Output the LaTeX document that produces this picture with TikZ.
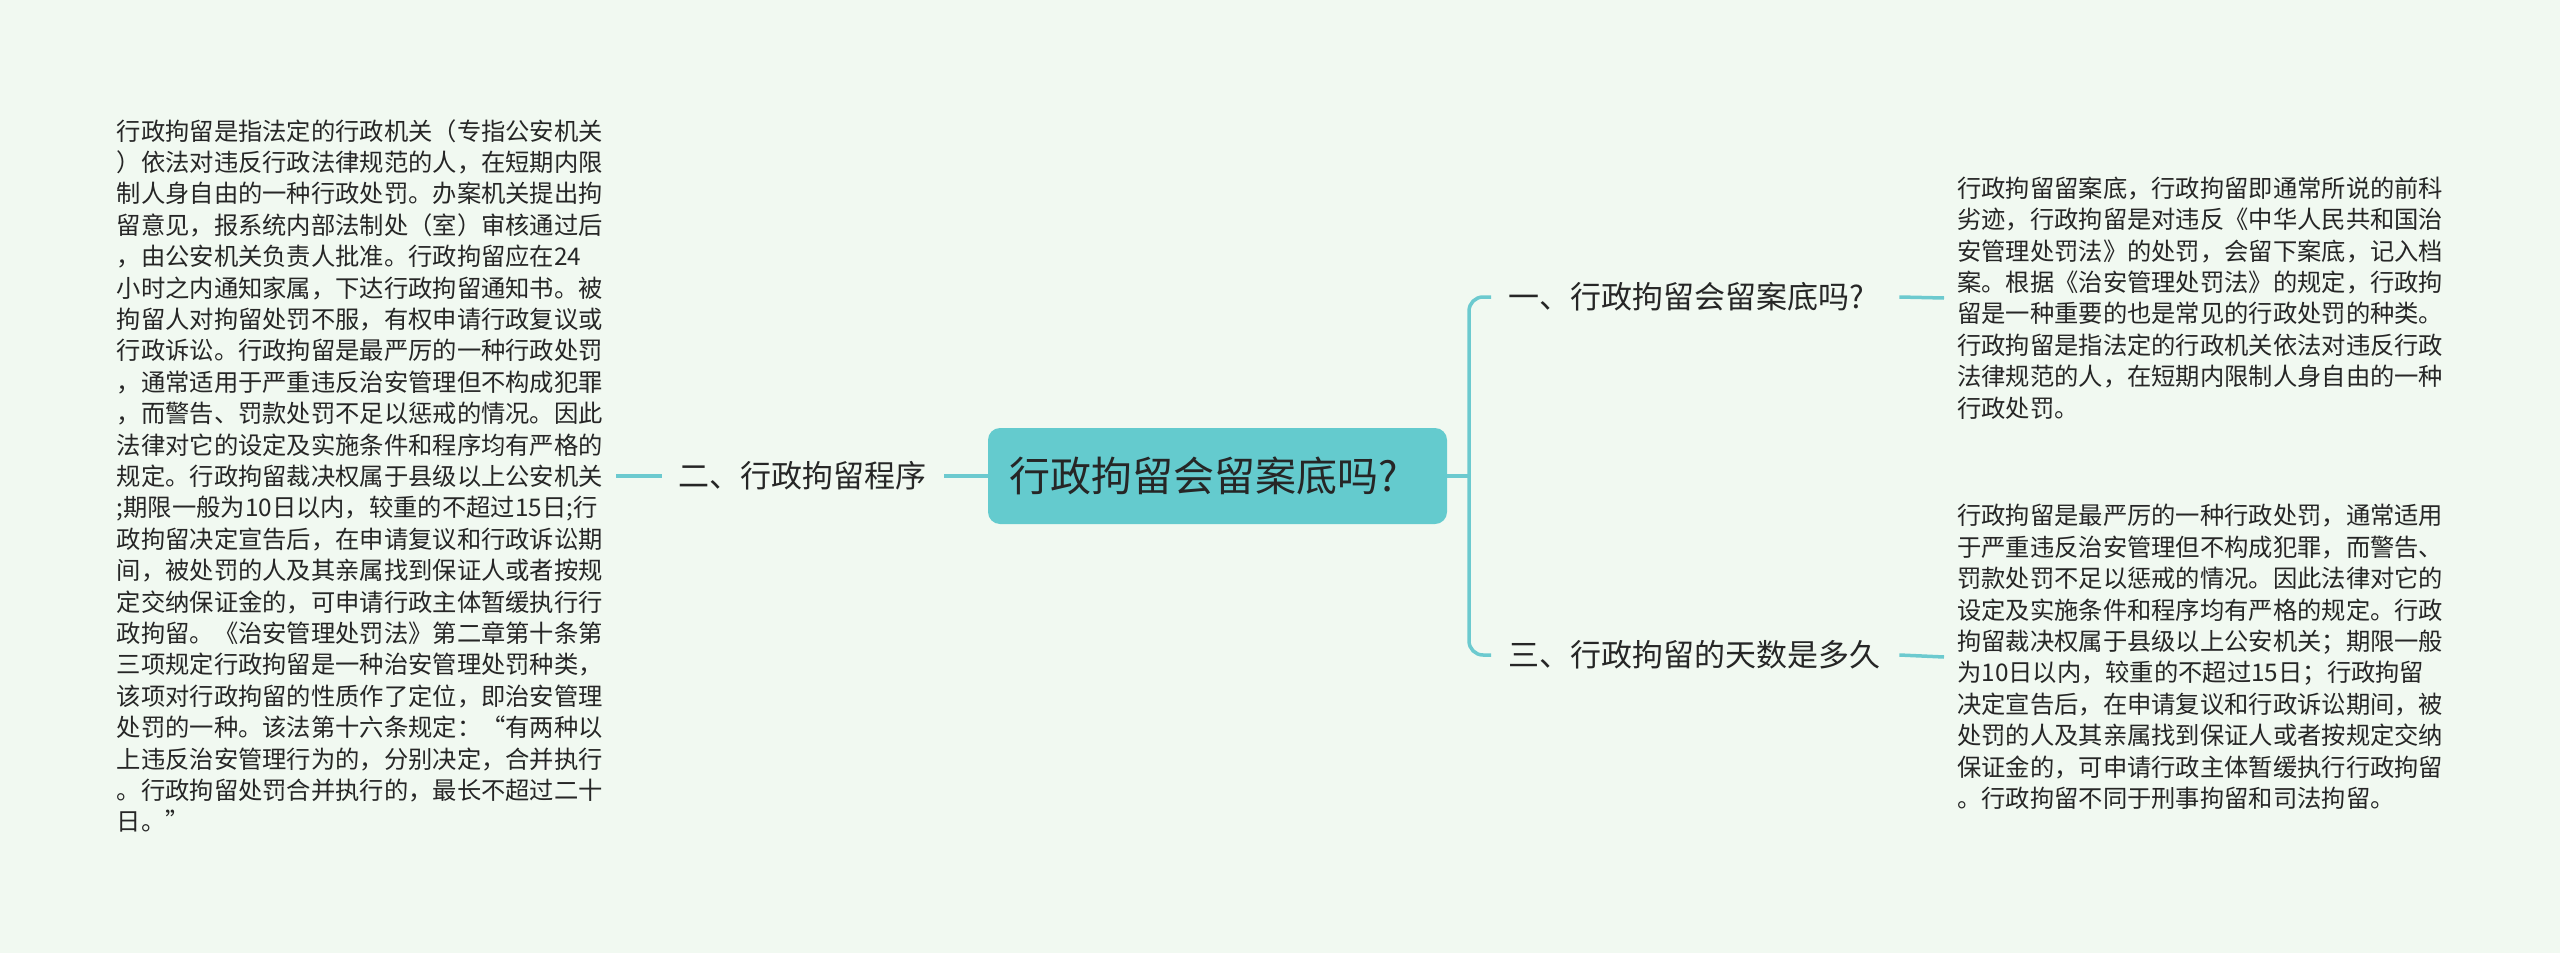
\documentclass[tikz,border=0pt]{standalone}
\usepackage{fontspec}
\setmainfont{Noto Sans CJK SC}
\definecolor{bgc}{HTML}{F1F9F1}
\definecolor{rootfill}{HTML}{64CBCE}
\definecolor{linec}{HTML}{6CCACF}
\definecolor{ink}{HTML}{262626}
\tikzset{
  conn/.style={draw=linec, line width=3.5pt},
  rootbox/.style={fill=rootfill, rounded corners=12pt, minimum height=96pt, inner xsep=21pt, inner ysep=0pt, text width=417pt, align=left, text=ink, font=\fontsize{41}{46}\selectfont},
  branch/.style={inner xsep=17pt, inner ysep=4pt, text=ink, font=\fontsize{31}{36}\selectfont, align=left},
  body/.style={inner xsep=13pt, inner ysep=0pt, text=ink, font=\fontsize{24.3}{31.4}\selectfont, align=left}
}
\begin{document}
\begin{tikzpicture}[x=1pt,y=-1pt]
\fill[bgc] (0,0) rectangle (2560,953);
\useasboundingbox (0,0) rectangle (2560,953);

\node[rootbox] (root) at (1217.5,476) {行政拘留会留案底吗?};

\node[branch, anchor=east] (b2) at (944,476) {二、行政拘留程序};
\node[branch, anchor=west, text width=374pt] (b1) at (1491,297) {一、行政拘留会留案底吗?};
\node[branch, anchor=west, text width=374pt] (b3) at (1491,655) {三、行政拘留的天数是多久};

\node[body, anchor=east] (t2) at (616,476) {行政拘留是指法定的行政机关（专指公安机关\\）依法对违反行政法律规范的人，在短期内限\\制人身自由的一种行政处罚。办案机关提出拘\\留意见，报系统内部法制处（室）审核通过后\\，由公安机关负责人批准。行政拘留应在24\\小时之内通知家属，下达行政拘留通知书。被\\拘留人对拘留处罚不服，有权申请行政复议或\\行政诉讼。行政拘留是最严厉的一种行政处罚\\，通常适用于严重违反治安管理但不构成犯罪\\，而警告、罚款处罚不足以惩戒的情况。因此\\法律对它的设定及实施条件和程序均有严格的\\规定。行政拘留裁决权属于县级以上公安机关\\;期限一般为10日以内，较重的不超过15日;行\\政拘留决定宣告后，在申请复议和行政诉讼期\\间，被处罚的人及其亲属找到保证人或者按规\\定交纳保证金的，可申请行政主体暂缓执行行\\政拘留。《治安管理处罚法》第二章第十条第\\三项规定行政拘留是一种治安管理处罚种类，\\该项对行政拘留的性质作了定位，即治安管理\\处罚的一种。该法第十六条规定：“有两种以\\上违反治安管理行为的，分别决定，合并执行\\。行政拘留处罚合并执行的，最长不超过二十\\日。”};

\node[body, anchor=west] (t1) at (1944,298) {行政拘留留案底，行政拘留即通常所说的前科\\劣迹，行政拘留是对违反《中华人民共和国治\\安管理处罚法》的处罚，会留下案底，记入档\\案。根据《治安管理处罚法》的规定，行政拘\\留是一种重要的也是常见的行政处罚的种类。\\行政拘留是指法定的行政机关依法对违反行政\\法律规范的人，在短期内限制人身自由的一种\\行政处罚。};

\node[body, anchor=west] (t3) at (1944,657) {行政拘留是最严厉的一种行政处罚，通常适用\\于严重违反治安管理但不构成犯罪，而警告、\\罚款处罚不足以惩戒的情况。因此法律对它的\\设定及实施条件和程序均有严格的规定。行政\\拘留裁决权属于县级以上公安机关；期限一般\\为10日以内，较重的不超过15日；行政拘留\\决定宣告后，在申请复议和行政诉讼期间，被\\处罚的人及其亲属找到保证人或者按规定交纳\\保证金的，可申请行政主体暂缓执行行政拘留\\。行政拘留不同于刑事拘留和司法拘留。};

\coordinate (fork) at (1469,476);
\draw[conn] (root.east) -- (fork);
\draw[conn, rounded corners=14pt] (b1.west) -| (fork) |- (b3.west);
\draw[conn] (root.west) -- (b2.east);
\draw[conn] (b2.west) -- (t2.east);
\draw[conn] (b1.east) -- (t1.west);
\draw[conn] (b3.east) -- (t3.west);
\end{tikzpicture}
\end{document}
